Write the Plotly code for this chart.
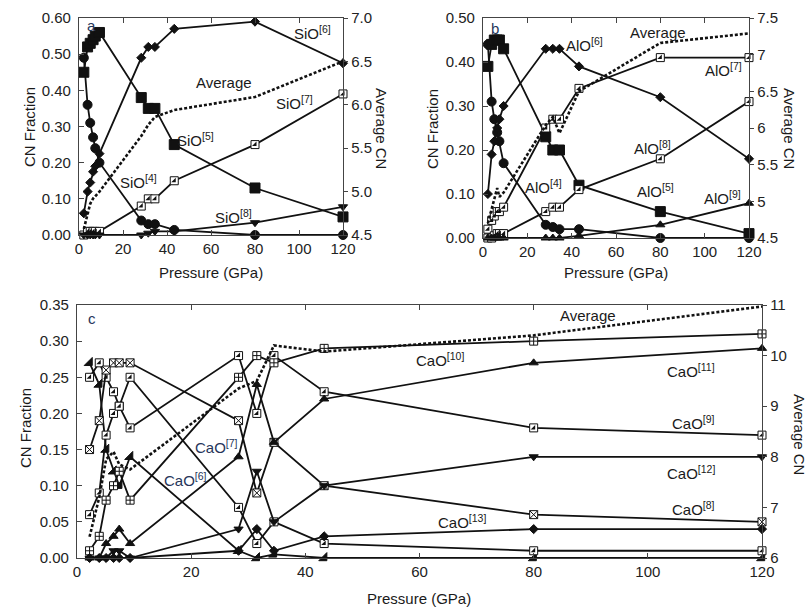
import plotly.graph_objects as go

W, H = 809, 610

# ---------------- data ----------------
P = [2.2, 3.9, 5.1, 6.4, 7.4, 9.3, 28.3, 31.5, 34.5, 43.3, 80, 120]

# panel a (Si)
si4 = [0.49, 0.36, 0.31, 0.27, 0.24, 0.20, 0.04, 0.03, 0.03, 0.014, 0.00, 0.00]
si5 = [0.45, 0.52, 0.53, 0.54, 0.55, 0.56, 0.38, 0.35, 0.35, 0.25, 0.13, 0.05]
si6 = [0.06, 0.12, 0.145, 0.175, 0.19, 0.225, 0.49, 0.52, 0.52, 0.57, 0.59, 0.475]
si7 = [0.00, 0.01, 0.01, 0.01, 0.01, 0.01, 0.08, 0.10, 0.10, 0.15, 0.25, 0.39]
si8 = [0.00, 0.00, 0.00, 0.00, 0.00, 0.00, 0.00, 0.005, 0.01, 0.01, 0.034, 0.078]
si_avg = [4.57, 4.75, 4.86, 4.92, 4.95, 5.0, 5.64, 5.77, 5.86, 5.94, 6.09, 6.5]

# panel b (Al)
al4 = [0.44, 0.31, 0.27, 0.24, 0.22, 0.17, 0.03, 0.025, 0.02, 0.02, 0.00, 0.00]
al5 = [0.39, 0.44, 0.45, 0.45, 0.45, 0.43, 0.23, 0.20, 0.20, 0.12, 0.06, 0.01]
al6 = [0.10, 0.19, 0.22, 0.25, 0.27, 0.30, 0.43, 0.43, 0.43, 0.39, 0.32, 0.18]
al7 = [0.02, 0.04, 0.05, 0.06, 0.06, 0.07, 0.25, 0.27, 0.27, 0.34, 0.41, 0.41]
al8 = [0.00, 0.00, 0.005, 0.01, 0.01, 0.01, 0.06, 0.07, 0.07, 0.11, 0.18, 0.31]
al9 = [0.00, 0.00, 0.00, 0.00, 0.00, 0.00, 0.00, 0.00, 0.00, 0.005, 0.03, 0.079]
al_avg = [4.70, 4.90, 5.05, 5.18, 5.06, 5.12, 6.04, 6.15, 5.93, 6.5, 7.16, 7.29]

# panel c (Ca)
ca6 = [0.27, 0.24, 0.15, 0.12, 0.10, 0.14, 0.01, 0.00, 0.005, 0.00, 0.00, 0.00]
ca7 = [0.25, 0.27, 0.25, 0.23, 0.21, 0.25, 0.07, 0.02, 0.05, 0.02, 0.01, 0.01]
ca8 = [0.15, 0.19, 0.26, 0.27, 0.27, 0.27, 0.19, 0.09, 0.16, 0.10, 0.06, 0.05]
ca9 = [0.06, 0.09, 0.17, 0.20, 0.21, 0.18, 0.28, 0.20, 0.28, 0.23, 0.18, 0.17]
ca10 = [0.01, 0.03, 0.08, 0.10, 0.12, 0.08, 0.25, 0.28, 0.27, 0.29, 0.30, 0.31]
ca11 = [0.00, 0.00, 0.02, 0.03, 0.04, 0.02, 0.14, 0.24, 0.16, 0.22, 0.27, 0.29]
ca12 = [0.00, 0.00, 0.00, 0.01, 0.01, 0.00, 0.04, 0.12, 0.05, 0.10, 0.14, 0.14]
ca13 = [0.00, 0.00, 0.00, 0.00, 0.00, 0.00, 0.01, 0.04, 0.01, 0.03, 0.04, 0.04]
ca_avg = [6.42, 7.2, 7.95, 8.1, 7.85, 7.75, 9.35, 9.5, 10.2, 10.08, 10.4, 10.97]

# ---------------- styling helpers ----------------
INK = '#111111'
FONT = 'Liberation Sans, Arial, sans-serif'
traces = []


def series(y, xa, ya, symbol, size, fill=INK, half=False, lw=1.8):
    traces.append(go.Scatter(
        x=P, y=y, xaxis=xa, yaxis=ya, mode='lines+markers',
        line=dict(color=INK, width=lw),
        marker=dict(symbol=symbol, size=size, color=fill,
                    line=dict(color=INK, width=1)),
        cliponaxis=False, showlegend=False, hoverinfo='skip'))
    if half:
        traces.append(go.Scatter(
            x=P, y=y, xaxis=xa, yaxis=ya, mode='markers',
            marker=dict(symbol='triangle-se', size=size / 1.6, color=INK,
                        line=dict(width=0)),
            cliponaxis=False, showlegend=False, hoverinfo='skip'))


def average(y, xa, ya):
    traces.append(go.Scatter(
        x=P, y=y, xaxis=xa, yaxis=ya, mode='lines',
        line=dict(color=INK, width=2.6, dash='3px,2px'),
        cliponaxis=False, showlegend=False, hoverinfo='skip'))


# panel a
average(si_avg, 'x', 'y2')
series(si4, 'x', 'y', 'circle', 9)
series(si5, 'x', 'y', 'square', 10)
series(si6, 'x', 'y', 'diamond', 7)
series(si7, 'x', 'y', 'square', 8, fill='white', half=True)
series(si8, 'x', 'y', 'triangle-down', 8)

# panel b
average(al_avg, 'x2', 'y4')
series(al4, 'x2', 'y3', 'circle', 9)
series(al5, 'x2', 'y3', 'square', 10)
series(al6, 'x2', 'y3', 'diamond', 7)
series(al7, 'x2', 'y3', 'square', 8, fill='white', half=True)
series(al8, 'x2', 'y3', 'square', 8, fill='white', half=True)
series(al9, 'x2', 'y3', 'triangle-up', 8)

# panel c
average(ca_avg, 'x3', 'y6')
series(ca6, 'x3', 'y5', 'triangle-se', 9)
series(ca7, 'x3', 'y5', 'square', 8, fill='white', half=True)
series(ca8, 'x3', 'y5', 'square-x', 8, fill='white')
series(ca9, 'x3', 'y5', 'square', 8, fill='white', half=True)
series(ca10, 'x3', 'y5', 'square-cross', 8, fill='white')
series(ca11, 'x3', 'y5', 'triangle-up', 8)
series(ca12, 'x3', 'y5', 'triangle-down', 8)
series(ca13, 'x3', 'y5', 'diamond', 7)

fig = go.Figure(traces)


def px_x(px):
    return px / W


def px_y(py):
    return 1 - py / H


tickfont = dict(family=FONT, size=15, color='#222')
AX = '#444'


def xaxis(dom, anchor):
    return dict(domain=dom, anchor=anchor, range=[0, 120], dtick=20, tick0=0,
                ticks='inside', ticklen=5, tickwidth=1, tickcolor=AX,
                showline=True, linecolor=AX, linewidth=1.3, mirror='ticks',
                showgrid=False, zeroline=False, tickfont=tickfont,
                automargin=False)


def yleft(dom, anchor, rng, dt):
    return dict(domain=dom, anchor=anchor, range=rng, dtick=dt, tick0=0,
                tickformat='.2f', ticks='inside', ticklen=5, tickwidth=1,
                tickcolor=AX, showline=True, linecolor=AX, linewidth=1.3,
                showgrid=False, zeroline=False, tickfont=tickfont,
                ticklabelstandoff=4, automargin=False)


def yright(over, anchor, rng, dt, fmt):
    return dict(overlaying=over, anchor=anchor, side='right', range=rng,
                dtick=dt, tick0=rng[0], tickformat=fmt, ticks='outside',
                ticklen=4, tickwidth=1, tickcolor=AX, showline=True,
                linecolor=AX, linewidth=1.3, showgrid=False, zeroline=False,
                tickfont=tickfont, automargin=False)


dom_ax = [px_x(79), px_x(343)]
dom_ay = [px_y(235), px_y(18)]
dom_bx = [px_x(483), px_x(749)]
dom_by = [px_y(238), px_y(18)]
dom_cx = [px_x(77), px_x(762)]
dom_cy = [px_y(558), px_y(305)]

fig.update_layout(
    width=W, height=H, margin=dict(l=0, r=0, t=0, b=0, autoexpand=False),
    paper_bgcolor='white', plot_bgcolor='white', showlegend=False,
    font=dict(family=FONT, color='#1a1a1a'),
    xaxis=xaxis(dom_ax, 'y'),
    yaxis=yleft(dom_ay, 'x', [0, 0.6], 0.1),
    yaxis2=yright('y', 'x', [4.5, 7.0], 0.5, '.1f'),
    xaxis2=xaxis(dom_bx, 'y3'),
    yaxis3=yleft(dom_by, 'x2', [0, 0.5], 0.1),
    yaxis4=yright('y3', 'x2', [4.5, 7.5], 0.5, ''),
    xaxis3=xaxis(dom_cx, 'y5'),
    yaxis5=yleft(dom_cy, 'x3', [0, 0.35], 0.05),
    yaxis6=yright('y5', 'x3', [6, 11], 1, ''),
)

ann = []
LAB = dict(family=FONT, size=15, color='#1a1a1a')
NAVY = dict(family=FONT, size=15, color='#26365a')


def label(text, x, y, xr, yr, font=LAB, xanchor='center', angle=0):
    ann.append(dict(text=text, x=x, y=y, xref=xr, yref=yr, showarrow=False,
                    font=font, xanchor=xanchor, yanchor='middle',
                    textangle=angle))


# axis titles
for cx in [211, 616]:
    label('Pressure (GPa)', px_x(cx), px_y(272), 'paper', 'paper')
label('Pressure (GPa)', px_x(419), px_y(598), 'paper', 'paper')
for (cx, cy) in [(30, 127), (432, 129), (25, 428)]:
    label('CN Fraction', px_x(cx), px_y(cy), 'paper', 'paper', angle=-90)
for (cx, cy) in [(382, 128), (790, 128), (800, 434)]:
    label('Average CN', px_x(cx), px_y(cy), 'paper', 'paper', angle=90)

# panel a labels
label('a', 2.5, 0.578, 'x', 'y', NAVY, 'left')
label('SiO<sup>[6]</sup>', 106, 0.56, 'x', 'y')
label('Average', 66, 0.423, 'x', 'y')
label('SiO<sup>[7]</sup>', 98, 0.365, 'x', 'y')
label('SiO<sup>[5]</sup>', 53, 0.263, 'x', 'y')
label('SiO<sup>[4]</sup>', 27, 0.147, 'x', 'y')
label('SiO<sup>[8]</sup>', 70, 0.05, 'x', 'y')

# panel b labels
label('b', 2.5, 0.477, 'x2', 'y3', NAVY, 'left')
label('AlO<sup>[6]</sup>', 46, 0.439, 'x2', 'y3')
label('Average', 79, 0.468, 'x2', 'y3')
label('AlO<sup>[7]</sup>', 108.7, 0.382, 'x2', 'y3')
label('AlO<sup>[8]</sup>', 76.4, 0.205, 'x2', 'y3')
label('AlO<sup>[5]</sup>', 77.6, 0.109, 'x2', 'y3')
label('AlO<sup>[9]</sup>', 108, 0.091, 'x2', 'y3')
label('AlO<sup>[4]</sup>', 27.5, 0.116, 'x2', 'y3')

# panel c labels
label('c', 1.5, 0.332, 'x3', 'y5', NAVY, 'left')
label('Average', 89.5, 0.336, 'x3', 'y5')
label('CaO<sup>[10]</sup>', 63.6, 0.275, 'x3', 'y5')
label('CaO<sup>[11]</sup>', 107.5, 0.26, 'x3', 'y5')
label('CaO<sup>[9]</sup>', 108, 0.187, 'x3', 'y5')
label('CaO<sup>[12]</sup>', 107.5, 0.118, 'x3', 'y5')
label('CaO<sup>[8]</sup>', 108, 0.069, 'x3', 'y5')
label('CaO<sup>[13]</sup>', 67.5, 0.05, 'x3', 'y5')
label('CaO<sup>[7]</sup>', 24.5, 0.154, 'x3', 'y5', NAVY)
label('CaO<sup>[6]</sup>', 19, 0.108, 'x3', 'y5', NAVY)

fig.update_layout(annotations=ann)
fig.write_html("out.html", config={'displayModeBar': False},
               post_script="document.body.style.margin='0';")
